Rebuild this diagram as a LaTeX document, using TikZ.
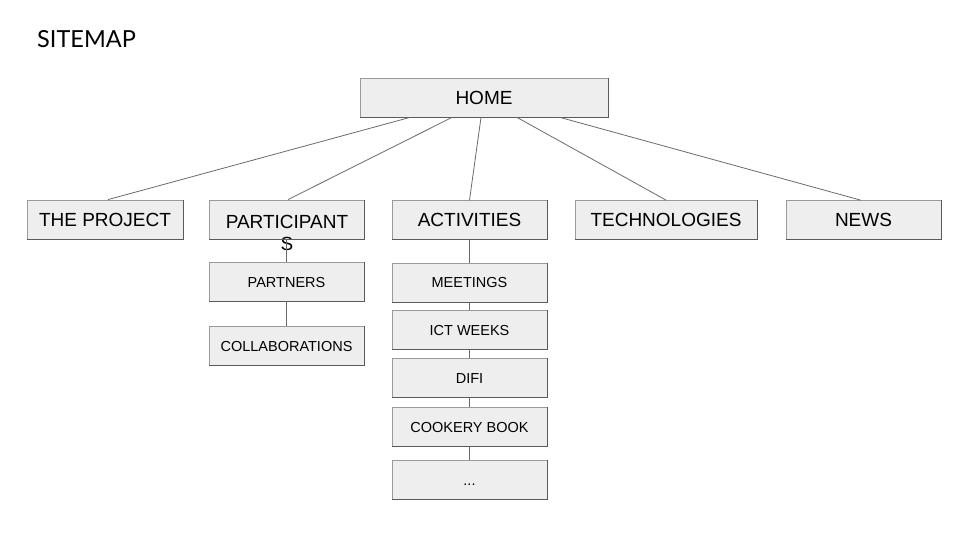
\documentclass[tikz,border=0pt]{standalone}
\usepackage{fontspec}
\setmainfont{Liberation Sans}
\newfontfamily\titlefont{Lato}
\definecolor{boxfill}{HTML}{EEEEEE}
\definecolor{boxedge}{HTML}{9A9A9A}
\definecolor{boxshade}{HTML}{5A5A5A}
\definecolor{linkcol}{HTML}{6A6A6A}
\tikzset{
  box/.style={draw=boxedge, fill=boxfill, line width=0.8pt, inner sep=0pt,
    minimum width=155pt, minimum height=39pt, anchor=center},
  shade/.style={draw=boxshade, line width=1.1pt},
  bigtxt/.style={font=\fontsize{19}{21}\selectfont, text height=13.6pt, text depth=0pt},
  smalltxt/.style={font=\fontsize{14.5}{17}\selectfont, text height=10.4pt, text depth=0pt},
  link/.style={draw=linkcol, line width=0.8pt}
}
\begin{document}
\begin{tikzpicture}[x=1pt,y=-1pt]
\useasboundingbox (0,0) rectangle (960,540);
\node[anchor=base west, inner sep=0pt, font=\titlefont\fontsize{23.5}{26}\selectfont] (title) at (37,48) {SITEMAP};

\node[box, bigtxt, minimum width=248pt] (home) at (484,97.5) {HOME};
\node[box, bigtxt, minimum width=156pt] (project) at (105,219.5) {THE PROJECT};
\node[box, minimum width=155pt] (partic) at (286.5,219.5) {};
\node[font=\fontsize{19}{21}\selectfont, align=center, inner sep=0pt] (partictext) at (287,233) {PARTICIPANT\\[1pt]S};
\node[box, bigtxt, minimum width=155pt] (activ) at (469.5,220) {ACTIVITIES};
\node[box, bigtxt, minimum width=182pt] (tech) at (666,220) {TECHNOLOGIES};
\node[box, bigtxt, minimum width=155pt] (news) at (863.5,220) {NEWS};

\node[box, smalltxt] (partners) at (286.5,282) {PARTNERS};
\node[box, smalltxt] (collab) at (286.5,346) {COLLABORATIONS};

\node[box, smalltxt] (meet) at (469.5,282.5) {MEETINGS};
\node[box, smalltxt] (ict) at (469.5,330) {ICT WEEKS};
\node[box, smalltxt] (difi) at (469.5,378) {DIFI};
\node[box, smalltxt] (cook) at (469.5,427) {COOKERY BOOK};
\node[box, smalltxt] (more) at (469.5,480) {...};

\foreach \n in {home,project,partic,activ,tech,news,partners,collab,meet,ict,difi,cook,more}
  \draw[shade] (\n.north east) -- (\n.south east) -- (\n.south west);

\draw[link] ([xshift=-74pt]home.south) -- ([xshift=3pt]project.north);
\draw[link] ([xshift=-32pt]home.south) -- ([xshift=1.5pt]partic.north);
\draw[link] ([xshift=-3pt]home.south) -- (activ.north);
\draw[link] ([xshift=33pt]home.south) -- (tech.north);
\draw[link] ([xshift=76pt]home.south) -- ([xshift=-3pt]news.north);

\draw[link] (partic.south) -- (partners.north);
\draw[link] (partners.south) -- (collab.north);
\draw[link] (activ.south) -- (meet.north);
\draw[link] (meet.south) -- (ict.north);
\draw[link] (ict.south) -- (difi.north);
\draw[link] (difi.south) -- (cook.north);
\draw[link] (cook.south) -- (more.north);
\end{tikzpicture}
\end{document}
